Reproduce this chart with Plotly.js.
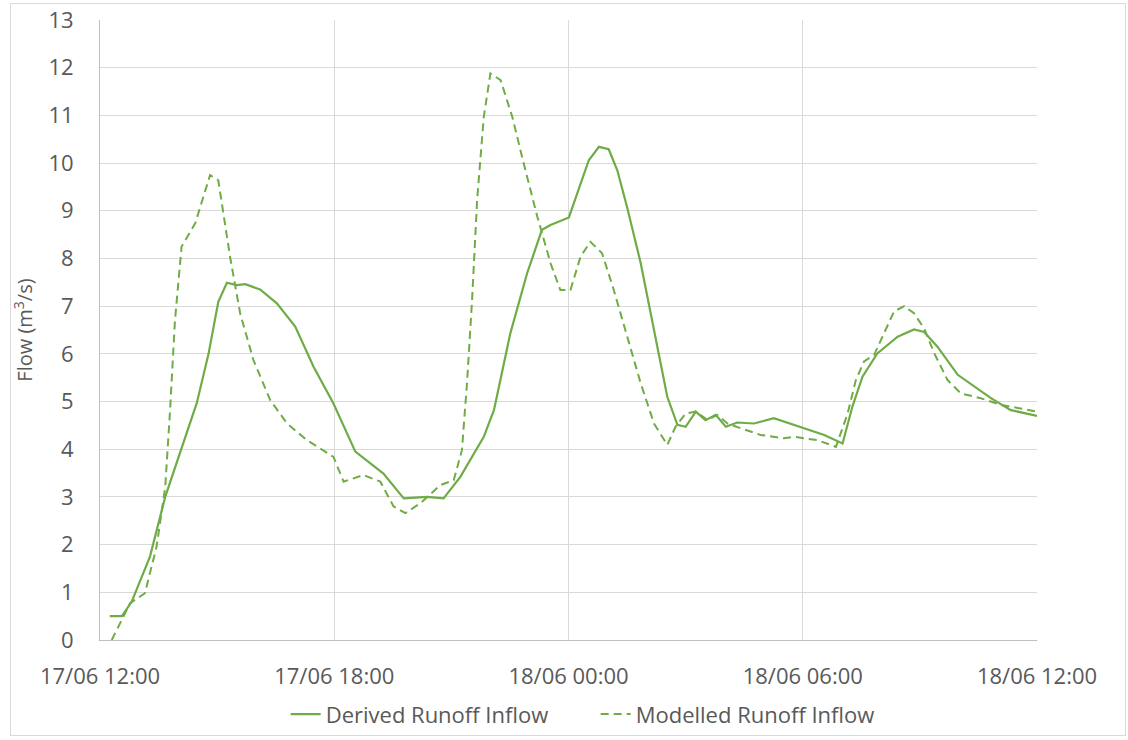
<!DOCTYPE html>
<html>
<head>
<meta charset="utf-8">
<script src="https://cdn.plot.ly/plotly-3.0.1.min.js"></script>
<style>
html,body{margin:0;padding:0;background:#fff;}
#frame{position:absolute;left:10px;top:3px;width:1116px;height:733px;border:1px solid #d9d9d9;box-sizing:border-box;}
#chart{position:absolute;left:0;top:0;width:1128px;height:740px;}
</style>
</head>
<body>
<div id="frame"></div>
<div id="chart"></div>
<script>
// hours after 17/06 12:00
const derivedHours = [0.25,0.56,0.81,1.28,1.67,2.05,2.48,2.78,3.03,3.25,3.5,3.72,4.1,4.53,5.0,5.47,5.98,6.54,7.26,7.78,8.38,8.8,9.23,9.83,10.09,10.51,10.94,11.32,11.54,12.01,12.52,12.78,13.03,13.25,13.5,13.85,14.19,14.53,14.79,15.0,15.26,15.51,15.77,16.03,16.32,16.75,17.26,17.78,18.55,19.02,19.27,19.53,19.91,20.43,20.85,21.11,21.45,21.97,22.82,23.33,24.0];
const derivedFlow  = [0.5,0.5,0.8,1.75,3.0,3.92,4.97,6.0,7.09,7.49,7.44,7.46,7.35,7.06,6.57,5.73,4.96,3.95,3.49,2.97,3.0,2.97,3.42,4.26,4.82,6.43,7.69,8.6,8.7,8.86,10.06,10.34,10.29,9.85,9.08,7.9,6.5,5.1,4.51,4.47,4.79,4.61,4.72,4.47,4.56,4.54,4.65,4.51,4.3,4.12,4.89,5.52,6.01,6.36,6.51,6.46,6.15,5.56,5.07,4.82,4.7];

const modelledHours = [0.3,0.77,1.15,1.45,1.67,1.79,1.92,2.09,2.44,2.82,3.03,3.33,3.59,3.93,4.36,4.79,5.3,5.98,6.24,6.75,7.18,7.52,7.82,8.21,8.72,9.06,9.27,9.4,9.53,9.66,9.83,10.0,10.26,10.56,10.85,11.2,11.54,11.79,12.05,12.31,12.56,12.86,13.16,13.5,13.85,14.19,14.53,14.74,15.0,15.26,15.56,15.81,16.07,16.41,16.92,17.52,17.78,18.38,18.85,19.15,19.36,19.57,19.83,20.08,20.34,20.6,20.85,21.11,21.37,21.71,22.05,22.56,23.08,24.0];
const modelledFlow  = [0.0,0.77,0.98,1.96,3.2,4.75,6.7,8.25,8.74,9.75,9.64,8.04,6.85,5.87,5.03,4.54,4.19,3.84,3.32,3.46,3.32,2.8,2.66,2.87,3.25,3.35,3.98,5.38,7.13,9.23,10.97,11.88,11.74,10.97,10.0,8.88,7.9,7.34,7.34,8.04,8.35,8.11,7.34,6.36,5.38,4.54,4.09,4.47,4.75,4.79,4.61,4.72,4.54,4.44,4.3,4.23,4.26,4.19,4.05,4.75,5.45,5.84,5.98,6.43,6.89,7.0,6.85,6.53,6.01,5.45,5.17,5.07,4.93,4.79];

const tickHours = [0,6,12,18,24];
const tickLabels = ['17/06 12:00','17/06 18:00','18/06 00:00','18/06 06:00','18/06 12:00'];
const seriesNames = ['Derived Runoff Inflow','Modelled Runoff Inflow'];

const t0 = Date.UTC(2017,5,17,12,0,0);
function toDate(h){
  const d = new Date(t0 + h*3600000);
  return d.toISOString().replace('T',' ').slice(0,19);
}

const green = '#6fac46';
const font = '"Open Sans", "Noto Sans", sans-serif';

const traces = [
  {x: derivedHours.map(toDate), y: derivedFlow, name: seriesNames[0], mode:'lines',
   line:{color:green, width:2.2}},
  {x: modelledHours.map(toDate), y: modelledFlow, name: seriesNames[1], mode:'lines',
   line:{color:green, width:2, dash:'8px,5px'}}
];

const layout = {
  width:1128, height:740,
  margin:{l:100, r:91, t:20, b:100, autoexpand:false},
  paper_bgcolor:'rgba(0,0,0,0)', plot_bgcolor:'#fff',
  font:{family:font, color:'#595959', size:20},
  showlegend:true,
  legend:{orientation:'h', x:0.529, xanchor:'center', y:-0.086, yanchor:'top',
          font:{size:22, color:'#595959', family:font},
          entrywidth:265, entrywidthmode:'pixels'},
  xaxis:{
    type:'date',
    range:[toDate(0), toDate(24)],
    tickvals: tickHours.map(toDate),
    ticktext: tickLabels,
    showgrid:true, gridcolor:'#d9d9d9', gridwidth:1,
    showline:true, linecolor:'#bfbfbf', linewidth:1,
    ticks:'', ticklabelstandoff:17,
    zeroline:false, automargin:false,
    tickfont:{size:22, color:'#595959', family:font}
  },
  yaxis:{
    range:[0,13], dtick:1, tick0:0,
    showgrid:true, gridcolor:'#d9d9d9', gridwidth:1,
    showline:true, linecolor:'#bfbfbf', linewidth:1,
    zeroline:false, ticks:'', ticklabelstandoff:21, automargin:false,
    tickfont:{size:22, color:'#595959', family:font},
    title:{text:'Flow (m<sup>3</sup>/s)', font:{size:20, color:'#595959', family:font}, standoff:10}
  }
};

Plotly.newPlot('chart', traces, layout, {displayModeBar:false, staticPlot:true});
</script>
</body>
</html>
